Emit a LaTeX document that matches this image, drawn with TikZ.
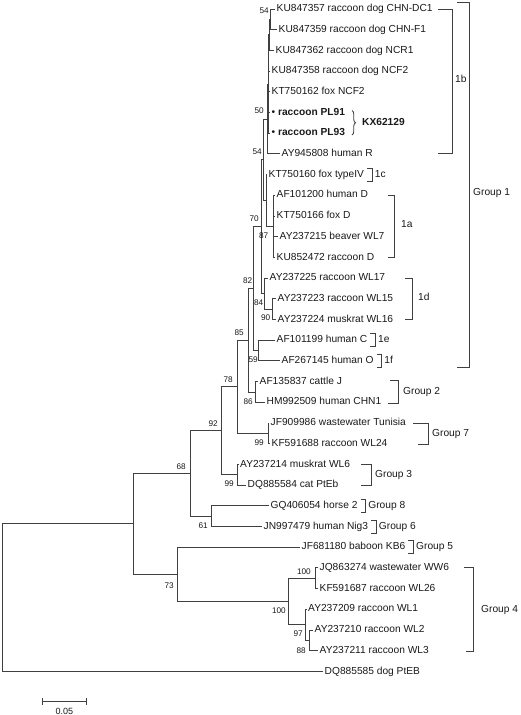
\documentclass[tikz,border=0pt]{standalone}
\usepackage{fontspec}
\setmainfont{Liberation Sans}
\usetikzlibrary{positioning,decorations.pathreplacing}

\begin{document}
\begin{tikzpicture}[x=1pt,y=-1pt,
  br/.style={draw=black!75,line width=0.85pt},
  tip/.style={anchor=west,inner sep=1.5pt,text height=7.4pt,text depth=2.1pt,font=\fontsize{10.2}{12}\selectfont,text=black!90},
  bs/.style={anchor=east,inner sep=0pt,font=\fontsize{8.2}{9}\selectfont,text=black!90},
  grp/.style={draw=black!75,line width=0.85pt},
  grplab/.style={anchor=west,inner sep=0pt,text height=7.4pt,text depth=2.1pt,font=\fontsize{10.2}{12}\selectfont,text=black!90}]
\useasboundingbox (0,0) rectangle (520,715);
%% inner nodes
\coordinate (nA) at (270,19.35);
\coordinate (nB) at (269.5,34.9);
\coordinate (core) at (268.5,84.05);
\coordinate (n50) at (267,119);
\coordinate (n87) at (273,226.35);
\coordinate (n1ca) at (266,200.5);
\coordinate (n54) at (263,159.75);
\coordinate (n90) at (272,309.15);
\coordinate (n84) at (264,293.6);
\coordinate (n70) at (261,226.7);
\coordinate (n59) at (258,350.55);
\coordinate (n82) at (253,288.6);
\coordinate (n86) at (255,391.95);
\coordinate (n85) at (248,340.3);
\coordinate (n99a) at (268,433.35);
\coordinate (n78) at (237,386.8);
\coordinate (n99b) at (237,474.75);
\coordinate (n92) at (221,430.8);
\coordinate (n61) at (211,516.15);
\coordinate (n68) at (190,473.5);
\coordinate (n100a) at (315,578.25);
\coordinate (n88) at (309,640.35);
\coordinate (n97) at (305,624.8);
\coordinate (n100) at (288,601.5);
\coordinate (n73) at (177,574.35);
\coordinate (n133) at (133,523.9);
\coordinate (root) at (2,597.65);
%% leaves
\node[tip] (l1) at (275,9.0) {KU847357 raccoon dog CHN-DC1};
\node[tip] (l2) at (277,29.7) {KU847359 raccoon dog CHN-F1};
\node[tip] (l3) at (274,50.4) {KU847362 raccoon dog NCR1};
\node[tip] (l4) at (270,71.1) {KU847358 raccoon dog NCF2};
\node[tip] (l5) at (270,91.8) {KT750162 fox NCF2};
\node[tip] (l6) at (270,112.5) {\textbullet\ \textbf{raccoon PL91}};
\node[tip] (l7) at (270,133.2) {\textbullet\ \textbf{raccoon PL93}};
\node[tip] (l8) at (280,153.9) {AY945808 human R};
\node[tip] (l9) at (267,174.6) {KT750160 fox typeIV};
\node[tip] (l10) at (275,195.3) {AF101200 human D};
\node[tip] (l11) at (275,216.0) {KT750166 fox D};
\node[tip] (l12) at (278,236.7) {AY237215 beaver WL7};
\node[tip] (l13) at (275,257.4) {KU852472 raccoon D};
\node[tip] (l14) at (268,278.1) {AY237225 raccoon WL17};
\node[tip] (l15) at (276,298.8) {AY237223 raccoon WL15};
\node[tip] (l16) at (276,319.5) {AY237224 muskrat WL16};
\node[tip] (l17) at (275,340.2) {AF101199 human C};
\node[tip] (l18) at (280,360.9) {AF267145 human O};
\node[tip] (l19) at (258,381.6) {AF135837 cattle J};
\node[tip] (l20) at (265,402.3) {HM992509 human CHN1};
\node[tip] (l21) at (269,423.0) {JF909986 wastewater Tunisia};
\node[tip] (l22) at (270,443.7) {KF591688 raccoon WL24};
\node[tip] (l23) at (238.5,464.4) {AY237214 muskrat WL6};
\node[tip] (l24) at (246,485.1) {DQ885584 cat PtEb};
\node[tip] (l25) at (269,505.8) {GQ406054 horse 2};
\node[tip] (l26) at (262,526.5) {JN997479 human Nig3};
\node[tip] (l27) at (300,547.2) {JF681180 baboon KB6};
\node[tip] (l28) at (318,567.9) {JQ863274 wastewater WW6};
\node[tip] (l29) at (318,588.6) {KF591687 raccoon WL26};
\node[tip] (l30) at (306.5,609.3) {AY237209 raccoon WL1};
\node[tip] (l31) at (313,630.0) {AY237210 raccoon WL2};
\node[tip] (l32) at (318,650.7) {AY237211 raccoon WL3};
\node[tip] (l33) at (323,671.4) {DQ885585 dog PtEB};
%% branches
\draw[br] (nA) |- (l1.west) (nA) |- (l2.west);
\draw[br] (nB) |- (nA) (nB) |- (l3.west);
\draw[br] (core) |- (nB) (core) |- (l4.west) (core) |- (l5.west) (core) |- (l6.west) (core) |- (l7.west);
\draw[br] (n50) |- (core) (n50) |- (l8.west);
\draw[br] (n87) |- (l10.west) (n87) |- (l11.west) (n87) |- (l12.west) (n87) |- (l13.west);
\draw[br] (n1ca) |- (l9.west) (n1ca) |- (n87);
\draw[br] (n54) |- (n50) (n54) |- (n1ca);
\draw[br] (n90) |- (l15.west) (n90) |- (l16.west);
\draw[br] (n84) |- (l14.west) (n84) |- (n90);
\draw[br] (n70) |- (n54) (n70) |- (n84);
\draw[br] (n59) |- (l17.west) (n59) |- (l18.west);
\draw[br] (n82) |- (n70) (n82) |- (n59);
\draw[br] (n86) |- (l19.west) (n86) |- (l20.west);
\draw[br] (n85) |- (n82) (n85) |- (n86);
\draw[br] (n99a) |- (l21.west) (n99a) |- (l22.west);
\draw[br] (n78) |- (n85) (n78) |- (n99a);
\draw[br] (n99b) |- (l23.west) (n99b) |- (l24.west);
\draw[br] (n92) |- (n78) (n92) |- (n99b);
\draw[br] (n61) |- (l25.west) (n61) |- (l26.west);
\draw[br] (n68) |- (n92) (n68) |- (n61);
\draw[br] (n100a) |- (l28.west) (n100a) |- (l29.west);
\draw[br] (n88) |- (l31.west) (n88) |- (l32.west);
\draw[br] (n97) |- (l30.west) (n97) |- (n88);
\draw[br] (n100) |- (n100a) (n100) |- (n97);
\draw[br] (n73) |- (l27.west) (n73) |- (n100);
\draw[br] (n133) |- (n68) (n133) |- (n73);
\draw[br] (root) |- (n133) (root) |- (l33.west);
%% bootstrap values
\node[bs] (bA) at (269,11) {54};
\node[bs] (b50) at (264,111) {50};
\node[bs] (b54) at (262,152) {54};
\node[bs] (b87) at (268.5,236) {87};
\node[bs] (b70) at (259,219) {70};
\node[bs] (b82) at (252.5,281) {82};
\node[bs] (b84) at (263.5,303) {84};
\node[bs] (b90) at (270.5,318) {90};
\node[bs] (b59) at (258,360) {59};
\node[bs] (b85) at (244,333) {85};
\node[bs] (b86) at (253,402) {86};
\node[bs] (b78) at (233,380) {78};
\node[bs] (b99a) at (264,443) {99};
\node[bs] (b92) at (218,424) {92};
\node[bs] (b99b) at (234,484) {99};
\node[bs] (b68) at (186,467) {68};
\node[bs] (b61) at (208,526) {61};
\node[bs] (b73) at (174,586) {73};
\node[bs] (b100a) at (311,572) {100};
\node[bs] (b100) at (286,611) {100};
\node[bs] (b97) at (303,634) {97};
\node[bs] (b88) at (306,651) {88};
%% groups
\draw[grp] (438,9) -- (452,9) -- (452,153.9) -- (438,153.9);
\node[grplab] (t1b) at (455,80) {1b};
\draw[grp] (457,2) -- (469,2) -- (469,367) -- (457,367);
\node[grplab] (tg1) at (473,193) {Group 1};
\draw[grp] (388,195.3) -- (394,195.3) -- (394,257.4) -- (388,257.4);
\node[grplab] (t1a) at (401,225) {1a};
\draw[grp] (405,278.1) -- (412,278.1) -- (412,319.5) -- (405,319.5);
\node[grplab] (t1d) at (418,298) {1d};
\draw[grp] (390,380.5) -- (398,380.5) -- (398,403.5) -- (388,403.5);
\node[grplab] (tg2) at (403,392) {Group 2};
\draw[grp] (413,423) -- (428,423) -- (428,444.5) -- (418,444.5);
\node[grplab] (tg7) at (432,433.5) {Group 7};
\draw[grp] (361,464.4) -- (371,464.4) -- (371,485.1) -- (361,485.1);
\node[grplab] (tg3) at (375,475) {Group 3};
\draw[grp] (464,567.9) -- (473.5,567.9) -- (473.5,651) -- (466,651);
\node[grplab] (tg4) at (481,610) {Group 4};
\draw[grp] ([xshift=1.5pt,yshift=6.5pt]l9.east) -- ++(5,0) |- ([xshift=1.5pt,yshift=-6.5pt]l9.east);
\node[grplab,right=9pt of l9] (t1c) {1c};
\draw[grp] ([xshift=1.5pt,yshift=6.5pt]l17.east) -- ++(5,0) |- ([xshift=1.5pt,yshift=-6.5pt]l17.east);
\node[grplab,right=9pt of l17] (t1e) {1e};
\draw[grp] ([xshift=1.5pt,yshift=6.5pt]l18.east) -- ++(5,0) |- ([xshift=1.5pt,yshift=-6.5pt]l18.east);
\node[grplab,right=9pt of l18] (t1f) {1f};
\draw[grp] ([xshift=1.5pt,yshift=6.5pt]l25.east) -- ++(5,0) |- ([xshift=1.5pt,yshift=-6.5pt]l25.east);
\node[grplab,right=9pt of l25] (tg8) {Group 8};
\draw[grp] ([xshift=1.5pt,yshift=6.5pt]l26.east) -- ++(5,0) |- ([xshift=1.5pt,yshift=-6.5pt]l26.east);
\node[grplab,right=9pt of l26] (tg6) {Group 6};
\draw[grp] ([xshift=1.5pt,yshift=6.5pt]l27.east) -- ++(5,0) |- ([xshift=1.5pt,yshift=-6.5pt]l27.east);
\node[grplab,right=9pt of l27] (tg5) {Group 5};
%% identical sequences
\draw[grp,decorate,decoration={brace,amplitude=3.5pt}] (352,110.5) -- (352,135);
\node[grplab] (kx) at (362,122.8) {\bfseries KX62129};
%% scale
\coordinate (s0) at (42.7,701.7);
\coordinate (s1) at (86,701.7);
\draw[br] (s0) -- (s1) ([yshift=3.5pt]s0) -- ([yshift=-3.5pt]s0) ([yshift=3.5pt]s1) -- ([yshift=-3.5pt]s1);
\node[inner sep=0pt,font=\fontsize{9}{10}\selectfont,text=black!90] (sl) at (64.3,711) {0.05};
\end{tikzpicture}
\end{document}
